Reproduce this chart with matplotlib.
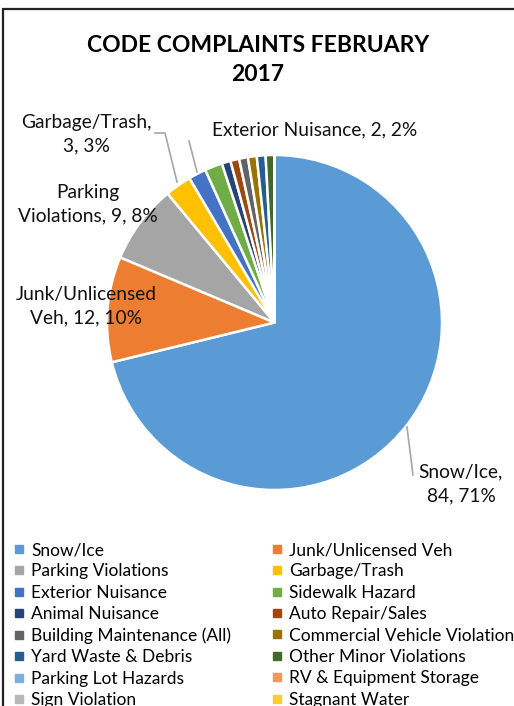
import matplotlib.pyplot as plt
from matplotlib.lines import Line2D
from matplotlib.patches import Rectangle

plt.rcParams['font.family'] = ['Lato', 'DejaVu Sans']

categories = ["Snow/Ice", "Junk/Unlicensed Veh", "Parking Violations", "Garbage/Trash",
              "Exterior Nuisance", "Sidewalk Hazard", "Animal Nuisance", "Auto Repair/Sales",
              "Building Maintenance (All)", "Commercial Vehicle Violation", "Yard Waste & Debris",
              "Other Minor Violations", "Parking Lot Hazards", "RV & Equipment Storage",
              "Sign Violation", "Stagnant Water"]
counts = [84, 12, 9, 3, 2, 2, 1, 1, 1, 1, 1, 1, 0, 0, 0, 0]
colors = ["#5B9BD5", "#ED7D31", "#A5A5A5", "#FFC000", "#4472C4", "#70AD47", "#264478",
          "#9E480E", "#636363", "#997300", "#255E91", "#43682B", "#7CAFDD", "#F1975A",
          "#B7B7B7", "#FFCD33"]

W, H = 514, 706
fig = plt.figure(figsize=(W / 100, H / 100), dpi=100)
ax = fig.add_axes([0, 0, 1, 1])

# border (top + left, right runs off the image)
ax.add_patch(Rectangle((3, -20), 600, H - 9 + 20, fill=False, edgecolor='#222222', lw=1.6))

cx, cy, r = 274.5, H - 322.5, 167.5
total = sum(counts)
wedges, _ = ax.pie(counts, colors=colors, startangle=90, counterclock=False,
                   center=(cx, cy), radius=r, frame=True,
                   wedgeprops=dict(edgecolor='white', linewidth=1.8))
ax.set_xlim(0, W)
ax.set_ylim(0, H)
ax.set_aspect('equal')
ax.axis('off')

ax.text(258, H - 60, "CODE COMPLAINTS FEBRUARY\n2017", ha='center', va='center',
        fontsize=16.5, fontweight='bold', linespacing=1.5)

def lab(i):
    return f"{counts[i]}, {round(100 * counts[i] / total)}%"

lbl = dict(fontsize=13.8, color='#111111', ha='center', va='center', linespacing=1.45)
ax.text(461, H - 484, f"{categories[0]},\n{lab(0)}", **lbl)
ax.text(86, H - 306, f"Junk/Unlicensed\nVeh, {lab(1)}", **lbl)
ax.text(88, H - 204, f"Parking\nViolations, {lab(2)}", **lbl)
ax.text(86, H - 134, f"{categories[3]},\n{lab(3)}", **lbl)
ax.text(315, H - 130, f"{categories[4]}, {lab(4)}", **lbl)

lc = '#A6A6A6'
ax.plot([407, 413], [H - 427, H - 475], color=lc, lw=1.2)
ax.plot([155, 165, 177], [H - 133, H - 133, H - 182], color=lc, lw=1.2)
ax.plot([189, 197], [H - 141, H - 172], color=lc, lw=1.2)

handles = [Line2D([], [], marker='s', ls='none', color=c, markersize=5.5) for c in colors]
order = list(range(0, 16, 2)) + list(range(1, 16, 2))
ax.legend([handles[i] for i in order], [categories[i] for i in order],
          ncol=2, loc='upper left', bbox_to_anchor=(13 / W, 1 - 542 / H),
          frameon=False, fontsize=12.5, handlelength=0.7, handletextpad=0.35,
          labelspacing=0.31, columnspacing=2.3, borderpad=0, borderaxespad=0)

fig.savefig('out.png', dpi=100)
